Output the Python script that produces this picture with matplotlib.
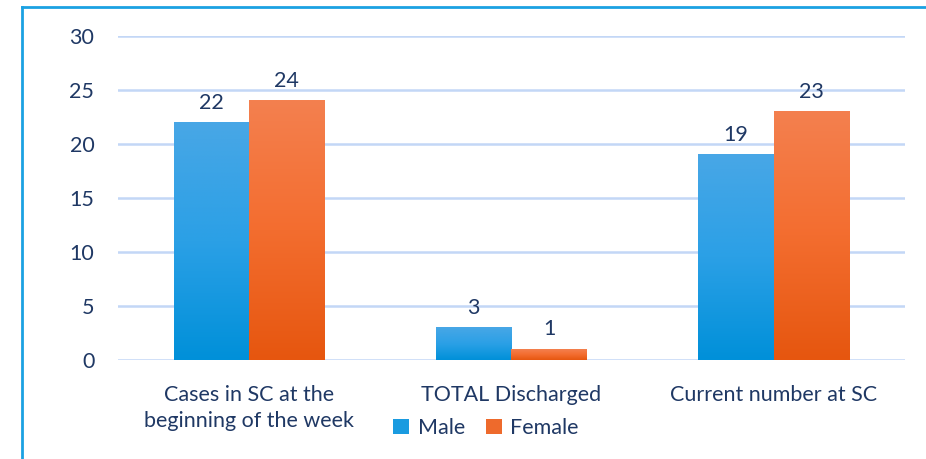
import numpy as np
import matplotlib.pyplot as plt
from matplotlib.colors import LinearSegmentedColormap
from matplotlib.patches import Patch
from matplotlib.lines import Line2D

# data
categories = ['Cases in SC at the\nbeginning of the week', 'TOTAL Discharged', 'Current number at SC']
male = [22, 3, 19]
female = [24, 1, 23]
series_names = ['Male', 'Female']

plt.rcParams['font.family'] = ['Lato', 'DejaVu Sans']
txt_col = '#1f3864'
grid_col = '#c3d7f6'
fs = 15.5

blue_cm = LinearSegmentedColormap.from_list('b', ['#0090d9', '#2ba0e6', '#48a7e6'])
orange_cm = LinearSegmentedColormap.from_list('o', ['#e6560f', '#f36d2f', '#f4804f'])

fig = plt.figure(figsize=(9.26, 4.59), dpi=100)
ax = fig.add_axes([0.1274, 0.2157, 0.8499, 0.7059])

# frame line round the chart (only left and top show)
fig.add_artist(Line2D([22/926, 22/926], [0, 1 - 7/459], transform=fig.transFigure, color='#1ba1e2', lw=2))
fig.add_artist(Line2D([22/926, 1], [1 - 7/459, 1 - 7/459], transform=fig.transFigure, color='#1ba1e2', lw=2))

x = np.arange(len(categories))
w = 0.288
grad = np.linspace(0, 1, 256).reshape(-1, 1)

for vals, off, cm in [(male, -w/2, blue_cm), (female, w/2, orange_cm)]:
    for xi, v in zip(x, vals):
        x0 = xi + off - w/2
        ax.imshow(grad, cmap=cm, origin='lower', extent=[x0, x0 + w, 0, v],
                  aspect='auto', zorder=3, interpolation='bilinear')
        ax.annotate(str(v), (xi + off, v), xytext=(0, 7), textcoords='offset points',
                    ha='center', va='bottom', fontsize=fs, color=txt_col)

ax.set_xlim(-0.5, 2.5)
ax.set_ylim(0, 30)
ax.set_yticks(range(0, 31, 5))
ax.set_xticks(x)
ax.set_xticklabels(categories, fontsize=fs, color=txt_col, linespacing=1.4)
ax.tick_params(axis='y', labelsize=fs, labelcolor=txt_col, length=0, pad=17)
ax.tick_params(axis='x', length=0, pad=18)
ax.yaxis.grid(True, color=grid_col, lw=1.8)
ax.set_axisbelow(True)
for s in ax.spines.values():
    s.set_visible(False)

handles = [Patch(facecolor='#1a9be0'), Patch(facecolor='#ee6a2c')]
fig.legend(handles, series_names, loc='center', bbox_to_anchor=(486/926, 1 - 428/459),
           ncol=2, frameon=False, fontsize=fs, labelcolor=txt_col,
           handlelength=0.75, handleheight=0.75, handletextpad=0.4, columnspacing=0.95)

plt.savefig('out.png')
